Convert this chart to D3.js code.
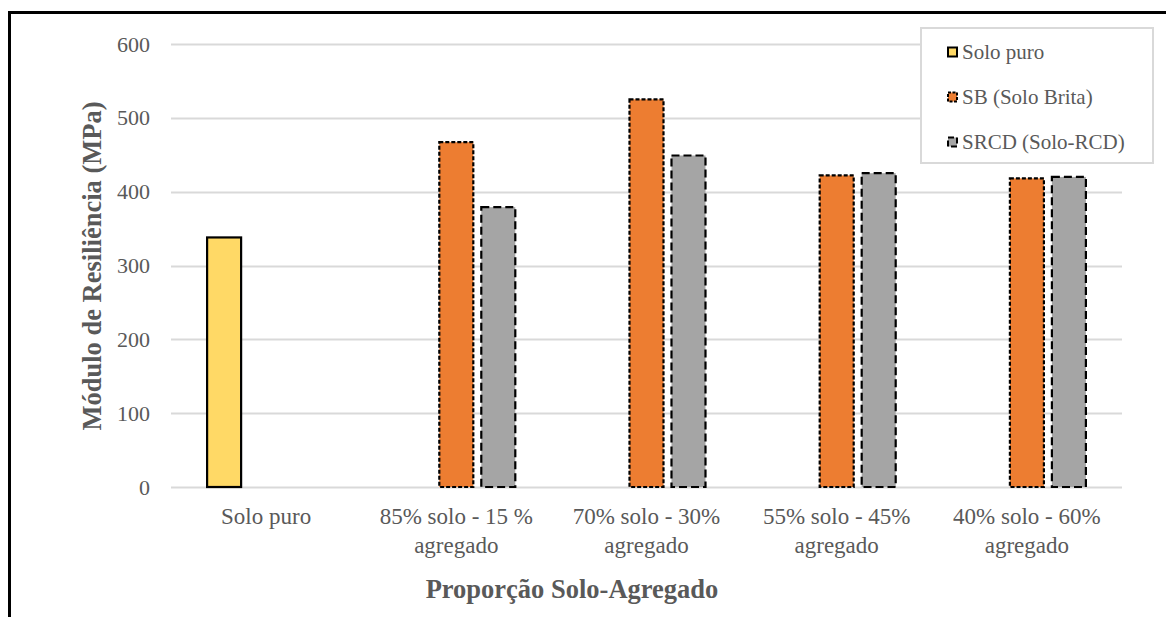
<!DOCTYPE html>
<html>
<head>
<meta charset="utf-8">
<script src="https://cdn.jsdelivr.net/npm/d3@7"></script>
<style>
  html, body { margin: 0; padding: 0; background: #ffffff; }
  svg { display: block; }
  text { font-family: "Liberation Serif", "Times New Roman", serif; fill: #595959; }
</style>
</head>
<body>
<svg id="chart" width="1166" height="617"></svg>
<script>
// Categories (each label split into its display lines)
const categories = [
  "Solo puro",
  "85% solo - 15 % agregado",
  "70% solo - 30% agregado",
  "55% solo - 45% agregado",
  "40% solo - 60% agregado"
];
const categoryLines = [
  ["Solo puro"],
  ["85% solo - 15 %", "agregado"],
  ["70% solo - 30%", "agregado"],
  ["55% solo - 45%", "agregado"],
  ["40% solo - 60%", "agregado"]
];

// Series names and values (MPa); null = not tested for that proportion
const seriesNames = ["Solo puro", "SB (Solo Brita)", "SRCD (Solo-RCD)"];
const soloPuroValues = [338, null, null, null, null];
const sbValues       = [null, 467, 525, 422, 418];
const srcdValues     = [null, 379, 449, 425, 420];

const yTicks = [0, 100, 200, 300, 400, 500, 600];

const seriesValues = [soloPuroValues, sbValues, srcdValues];
const seriesFill = ["#FFD966", "#ED7D31", "#A5A5A5"];
const seriesDash = [null, "4,2", "8,4"];

const svg = d3.select("#chart");

// Outer frame (top and left edges)
svg.append("line").attr("x1", 8).attr("x2", 1166).attr("y1", 12.5).attr("y2", 12.5)
  .attr("stroke", "#000").attr("stroke-width", 3);
svg.append("line").attr("x1", 9.5).attr("x2", 9.5).attr("y1", 11).attr("y2", 617)
  .attr("stroke", "#000").attr("stroke-width", 3);

const plot = { left: 171, right: 1122, top: 44, bottom: 487 };

const y = d3.scaleLinear().domain([0, 600]).range([plot.bottom, plot.top]);
const x0 = d3.scaleBand().domain(categories).range([plot.left, plot.right]);
const x1 = d3.scaleBand().domain(seriesNames).range([-59, 59]).paddingInner(0.19).paddingOuter(0);

// Gridlines
svg.append("g").selectAll("line").data(yTicks).join("line")
  .attr("x1", plot.left).attr("x2", plot.right)
  .attr("y1", d => Math.round(y(d)) + 0.5).attr("y2", d => Math.round(y(d)) + 0.5)
  .attr("stroke", "#D9D9D9").attr("stroke-width", 2);

// Y axis tick labels
const yAxis = d3.axisLeft(y).tickValues(yTicks).tickSize(0).tickPadding(0);
const gy = svg.append("g").attr("transform", `translate(150,0)`).call(yAxis);
gy.select(".domain").remove();
gy.selectAll("text").attr("font-family", "Liberation Serif").attr("font-size", 22)
  .attr("fill", "#595959");

// Bars
const barData = [];
seriesValues.forEach((vals, si) => {
  vals.forEach((v, ci) => {
    if (v !== null) barData.push({ si, ci, v });
  });
});
svg.append("g").selectAll("rect").data(barData).join("rect")
  .attr("x", d => x0(categories[d.ci]) + x0.bandwidth() / 2 + x1(seriesNames[d.si]))
  .attr("y", d => y(d.v))
  .attr("width", x1.bandwidth())
  .attr("height", d => y(0) - y(d.v))
  .attr("fill", d => seriesFill[d.si])
  .attr("stroke", "#000")
  .attr("stroke-width", 2.2)
  .attr("stroke-dasharray", d => seriesDash[d.si]);

// X category labels
const gx = svg.append("g");
categoryLines.forEach((lines, ci) => {
  const cx = x0(categories[ci]) + x0.bandwidth() / 2;
  const t = gx.append("text").attr("text-anchor", "middle")
    .attr("font-size", 23).attr("x", cx).attr("y", 524);
  lines.forEach((ln, li) => {
    t.append("tspan").attr("x", cx).attr("dy", li === 0 ? 0 : 29).text(ln);
  });
});

// Axis titles
svg.append("text").attr("text-anchor", "middle").attr("font-weight", "bold")
  .attr("font-size", 26.5).attr("x", 572).attr("y", 598).text("Proporção Solo-Agregado");
svg.append("text").attr("text-anchor", "middle").attr("font-weight", "bold")
  .attr("font-size", 26.5)
  .attr("transform", "translate(101,266) rotate(-90)")
  .text("Módulo de Resiliência (MPa)");

// Legend
const lg = svg.append("g");
lg.append("rect").attr("x", 921).attr("y", 28).attr("width", 232).attr("height", 135)
  .attr("fill", "#fff").attr("stroke", "#D9D9D9").attr("stroke-width", 2);
seriesNames.forEach((name, i) => {
  const cy = 52 + i * 45;
  lg.append("rect").attr("x", 948).attr("y", cy - 4.5).attr("width", 9).attr("height", 9)
    .attr("fill", seriesFill[i]).attr("stroke", "#000").attr("stroke-width", 2)
    .attr("stroke-dasharray", seriesDash[i] ? (i === 1 ? "3,1.5" : "6,3") : null);
  lg.append("text").attr("x", 962).attr("y", cy).attr("dy", "0.35em")
    .attr("font-size", 21).text(name);
});
</script>
</body>
</html>
